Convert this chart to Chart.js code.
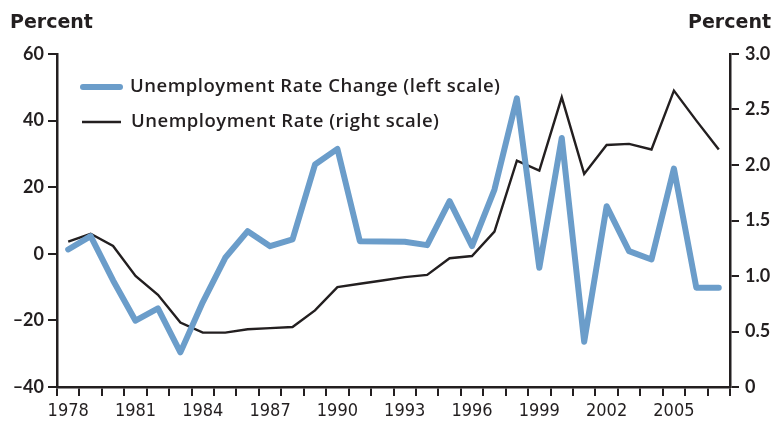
<!DOCTYPE html>
<html>
<head>
<meta charset="utf-8">
<script src="https://cdn.jsdelivr.net/npm/chart.js@4"></script>
<style>
html,body{margin:0;padding:0;background:#fff;}
#wrap{width:776px;height:421px;position:relative;}
</style>
</head>
<body>
<div id="wrap"><canvas id="c" width="776" height="421"></canvas></div>
<script>
const years = [1978,1979,1980,1981,1982,1983,1984,1985,1986,1987,1988,1989,1990,1991,1992,1993,1994,1995,1996,1997,1998,1999,2000,2001,2002,2003,2004,2005,2006,2007];
const rateChange = [1.3,5.3,-8,-20.1,-16.4,-29.6,-14.5,-1.2,6.8,2.3,4.3,26.8,31.5,3.8,3.7,3.6,2.6,15.8,2.3,19.3,46.7,-4.2,34.8,-26.4,14.3,0.8,-1.7,25.6,-10.2,-10.2];
const rate = [1.31,1.38,1.27,1.00,0.83,0.58,0.49,0.49,0.52,0.53,0.54,0.69,0.90,0.93,0.96,0.99,1.01,1.16,1.18,1.40,2.04,1.95,2.61,1.92,2.18,2.19,2.14,2.67,2.40,2.14];
const leftTicks = [-40,-20,0,20,40,60];
const rightTicks = [0,0.5,1.0,1.5,2.0,2.5,3.0];
const seriesNames = ['Unemployment Rate Change (left scale)','Unemployment Rate (right scale)'];
const axisTitle = 'Percent';

const INK = '#231f20';
const BLUE = '#6b9dca';

const overlay = {
  id: 'overlay',
  afterDraw(chart) {
    const ctx = chart.ctx;
    ctx.save();
    ctx.fillStyle = INK;
    ctx.font = 'bold 19px "DejaVu Sans", sans-serif';
    ctx.textBaseline = 'alphabetic';
    ctx.textAlign = 'left';
    ctx.fillText(axisTitle, 10, 28);
    ctx.textAlign = 'right';
    ctx.fillText(axisTitle, 771, 28);
    // legend
    const items = chart.data.datasets;
    const ys = [87, 122];
    ctx.textAlign = 'left';
    ctx.textBaseline = 'middle';
    ctx.font = '600 18.5px "Open Sans", sans-serif';
    if ('letterSpacing' in ctx) ctx.letterSpacing = '0.5px';
    items.forEach((ds, i) => {
      ctx.strokeStyle = ds.borderColor;
      ctx.lineWidth = ds.borderWidth;
      ctx.lineCap = i === 0 ? 'round' : 'butt';
      ctx.beginPath();
      ctx.moveTo(i === 0 ? 83 : 82, ys[i]);
      ctx.lineTo(i === 0 ? 120 : 121, ys[i]);
      ctx.stroke();
      ctx.fillStyle = INK;
      ctx.fillText(ds.label, i === 0 ? 130 : 131, ys[i]);
    });
    ctx.restore();
  }
};

new Chart(document.getElementById('c'), {
  type: 'line',
  data: {
    labels: years.map(String),
    datasets: [
      {label: seriesNames[0], data: rateChange, yAxisID: 'yL', borderColor: BLUE, borderWidth: 6,
       pointRadius: 0, tension: 0, borderJoinStyle: 'round', borderCapStyle: 'round', fill: false},
      {label: seriesNames[1], data: rate, yAxisID: 'yR', borderColor: INK, borderWidth: 2.4,
       pointRadius: 0, tension: 0, borderJoinStyle: 'miter', fill: false}
    ]
  },
  options: {
    responsive: false,
    animation: false,
    devicePixelRatio: 1,
    layout: {padding: {top: 54, left: 0, right: 0, bottom: 0}},
    plugins: {legend: {display: false}, tooltip: {enabled: false}},
    scales: {
      x: {
        type: 'category',
        offset: true,
        grid: {offset: true, drawOnChartArea: false, drawTicks: true, tickLength: 9, color: INK, lineWidth: 2},
        border: {display: true, color: INK, width: 2.5},
        ticks: {
          autoSkip: false, maxRotation: 0, minRotation: 0, padding: 5, color: INK,
          font: {family: '"Liberation Sans Narrow", "DejaVu Sans Condensed", sans-serif', size: 18},
          callback: (v, i) => ((years[i] - years[0]) % 3 === 0 && years[i] <= 2005 ? String(years[i]) : '')
        },
        afterFit: s => { s.height = 34; }
      },
      yL: {
        type: 'linear', position: 'left', min: -40, max: 60,
        afterBuildTicks: s => { s.ticks = leftTicks.map(v => ({value: v})); },
        grid: {drawOnChartArea: false, drawTicks: true, tickLength: 9, color: INK, lineWidth: 2},
        border: {display: true, color: INK, width: 2.5},
        ticks: {padding: 4, color: INK, font: {family: 'Lato, sans-serif', size: 18, weight: 'bold'},
          callback: v => (v < 0 ? '\u2013' + Math.abs(v) : String(v))},
        afterFit: s => { s.width = 57; }
      },
      yR: {
        type: 'linear', position: 'right', min: 0, max: 3,
        afterBuildTicks: s => { s.ticks = rightTicks.map(v => ({value: v})); },
        grid: {drawOnChartArea: false, drawTicks: true, tickLength: 9, color: INK, lineWidth: 2},
        border: {display: true, color: INK, width: 2.5},
        ticks: {padding: 6, color: INK, font: {family: 'Lato, sans-serif', size: 18, weight: 'bold'},
          callback: v => (v === 0 ? '0' : v.toFixed(1))},
        afterFit: s => { s.width = 46; }
      }
    }
  },
  plugins: [overlay]
});
</script>
</body>
</html>
